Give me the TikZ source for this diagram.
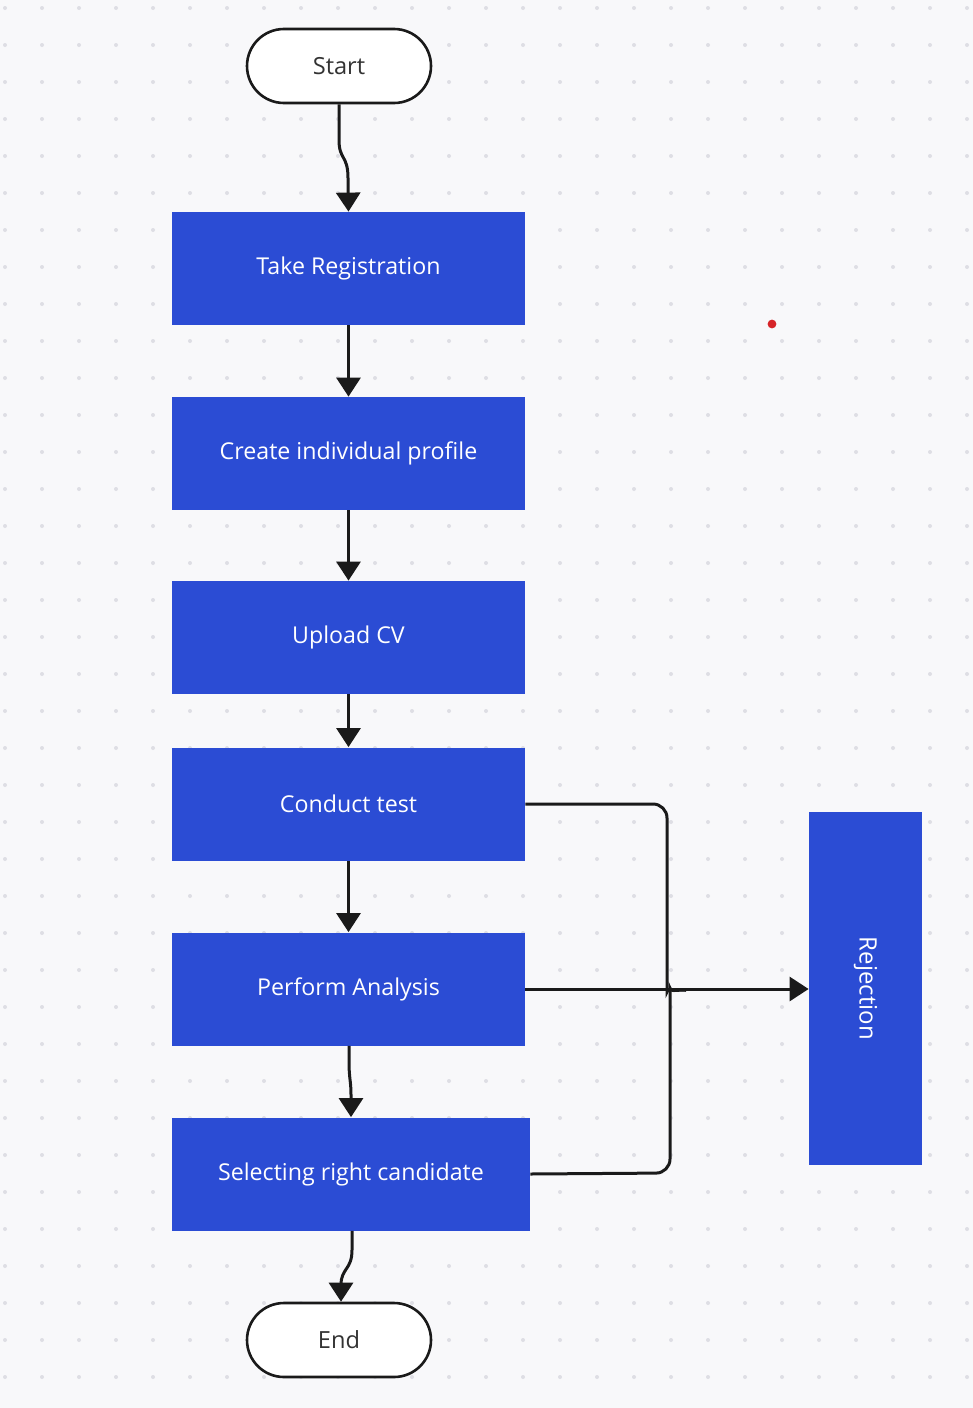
\documentclass[tikz,border=0pt]{standalone}
\usepackage{fontspec}
\setmainfont{Open Sans}
\usetikzlibrary{arrows.meta}
\definecolor{boxblue}{RGB}{43,76,212}
\definecolor{bgcol}{RGB}{248,248,250}
\definecolor{dotcol}{RGB}{222,222,228}
\definecolor{linecol}{RGB}{26,26,26}
\definecolor{txtgray}{RGB}{51,51,51}
\definecolor{reddot}{RGB}{214,36,40}
\begin{document}
\begin{tikzpicture}[x=0.5pt,y=-0.5pt,
  stepbox/.style={draw=none,fill=boxblue,text=white,minimum width=176.5pt,minimum height=56.5pt,inner sep=0pt,font=\fontsize{11.6}{14}\selectfont},
  termbox/.style={draw=linecol,line width=1.3pt,fill=white,text=txtgray,minimum width=92pt,minimum height=37pt,rounded corners=18.5pt,inner sep=0pt,font=\fontsize{11.8}{14}\selectfont},
  conn/.style={draw=linecol,line width=1.5pt},
  arr/.style={conn,-{Triangle[width=12pt,length=9.5pt]}}]
\fill[bgcol] (0,0) rectangle (973,1408);
\useasboundingbox (0,0) rectangle (973,1408);
\foreach \i in {0,...,26}{
  \foreach \j in {0,...,37}{
    \fill[dotcol] ({5+37*\i},{8+37*\j}) circle (1pt);
  }
}
\node[termbox] (start) at (339,66) {Start};
\node[stepbox] (take) at (348.5,268.5) {Take Registration};
\node[stepbox] (create) at (348.5,453.5) {Create individual profile};
\node[stepbox] (upload) at (348.5,637.5) {Upload CV};
\node[stepbox] (conduct) at (348.5,804) {Conduct test};
\node[stepbox] (perform) at (348.5,989) {Perform Analysis};
\node[stepbox,minimum width=179pt] (select) at (351,1174) {Selecting right candidate};
\node[termbox] (end) at (339,1340) {End};
\node[stepbox,minimum width=56.5pt,minimum height=176.5pt] (reject) at (865.5,988.5) {};
\node[text=white,rotate=-90,font=\fontsize{12}{14}\selectfont] (rejtxt) at (reject.center) {Rejection};
\fill[reddot] (772,324) circle (2.2pt);

\draw[arr] (start.south) -- (339,140) .. controls (339,160) and (348,155) .. (348,178) -- (take.north);
\draw[arr] (take.south) -- (create.north);
\draw[arr] (create.south) -- (upload.north);
\draw[arr] (upload.south) -- (conduct.north);
\draw[arr] (conduct.south) -- (perform.north);
\draw[arr] (perform.south -| 349,0) -- (349,1060) .. controls (349,1080) and (351,1080) .. (351,1095) -- (select.north);
\draw[arr] (select.south -| 352,0) -- (352,1250) .. controls (352,1270) and (341,1268) .. (341,1285) -- (end.north -| 341,0);
\draw[conn] (conduct.east) [rounded corners=7pt] -- (667,804) -- (667,978) [sharp corners] .. controls (667,988) and (672,990) .. (686,990);
\draw[conn] (select.east) [rounded corners=7pt] -- (670,1173) -- (670,1002) [sharp corners] .. controls (670,992) and (675,990) .. (686,990);
\draw[arr] (perform.east) -- (reject.west |- perform.east);
\end{tikzpicture}
\end{document}
